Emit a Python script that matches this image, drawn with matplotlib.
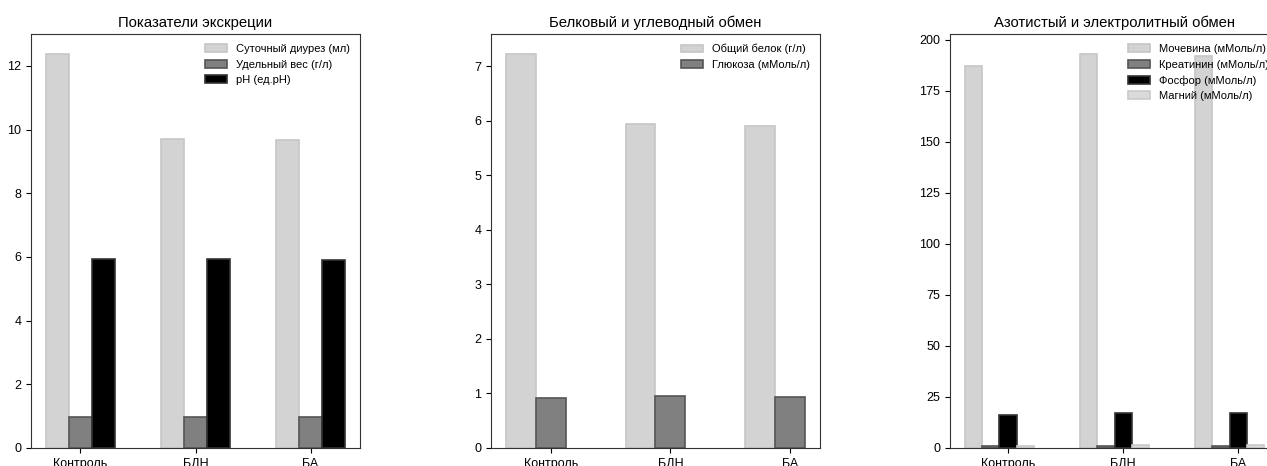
# Три панели с показателями мочи по группам.

import matplotlib
matplotlib.use("Agg")
import matplotlib.pyplot as plt
import numpy as np

plt.rcParams['font.family'] = ['Liberation Sans', 'DejaVu Sans']

groups = ["Контроль", "БДН", "БА"]

# Показатели экскреции
diuresis = [12.38, 9.70, 9.68]
density = [0.98, 0.98, 0.98]
ph = [5.92, 5.93, 5.91]

# Белковый и углеводный обмен
protein = [7.23, 5.94, 5.91]
glucose = [0.92, 0.95, 0.93]

# Азотистый и электролитный обмен
urea = [187.0, 193.2, 192.1]
creatinine = [0.9, 0.9, 0.9]
phosphorus = [16.3, 17.1, 17.1]
magnesium = [1.2, 1.3, 1.3]

light = ("#d3d3d3", "#c6c6c6")
mid = ("#808080", "#555555")
dark = ("#000000", "#333333")

panels = [
    ("Показатели экскреции", 0.2,
     [("Суточный диурез (мл)", diuresis, light),
      ("Удельный вес (г/л)", density, mid),
      ("pH (ед.pH)", ph, dark)]),
    ("Белковый и углеводный обмен", 0.25,
     [("Общий белок (г/л)", protein, light),
      ("Глюкоза (мМоль/л)", glucose, mid)]),
    ("Азотистый и электролитный обмен", 0.15,
     [("Мочевина (мМоль/л)", urea, light),
      ("Креатинин (мМоль/л)", creatinine, mid),
      ("Фосфор (мМоль/л)", phosphorus, dark),
      ("Магний (мМоль/л)", magnesium, ("#dadada", "#cacaca"))]),
]

fig = plt.figure(figsize=(12.67, 4.66), dpi=100)
lefts = [31 / 1267, 491 / 1267, 950 / 1267]
x = np.arange(len(groups))

for left, (title, w, series) in zip(lefts, panels):
    ax = fig.add_axes([left, 18 / 466, 329 / 1267, 414 / 466])
    n = len(series)
    for i, (label, vals, (fc, ec)) in enumerate(series):
        ax.bar(x + (i - n // 2) * w, vals, w, color=fc, edgecolor=ec,
               linewidth=1.2, label=label)
    ax.set_xticks(x)
    ax.set_xticklabels(groups, fontsize=9)
    ax.tick_params(axis='y', labelsize=9)
    ax.set_title(title, fontsize=10.7, pad=5)
    ax.legend(loc="upper right", frameon=False, fontsize=8)
    for s in ax.spines.values():
        s.set_color("#333333")

fig.savefig("out.png", dpi=100)
